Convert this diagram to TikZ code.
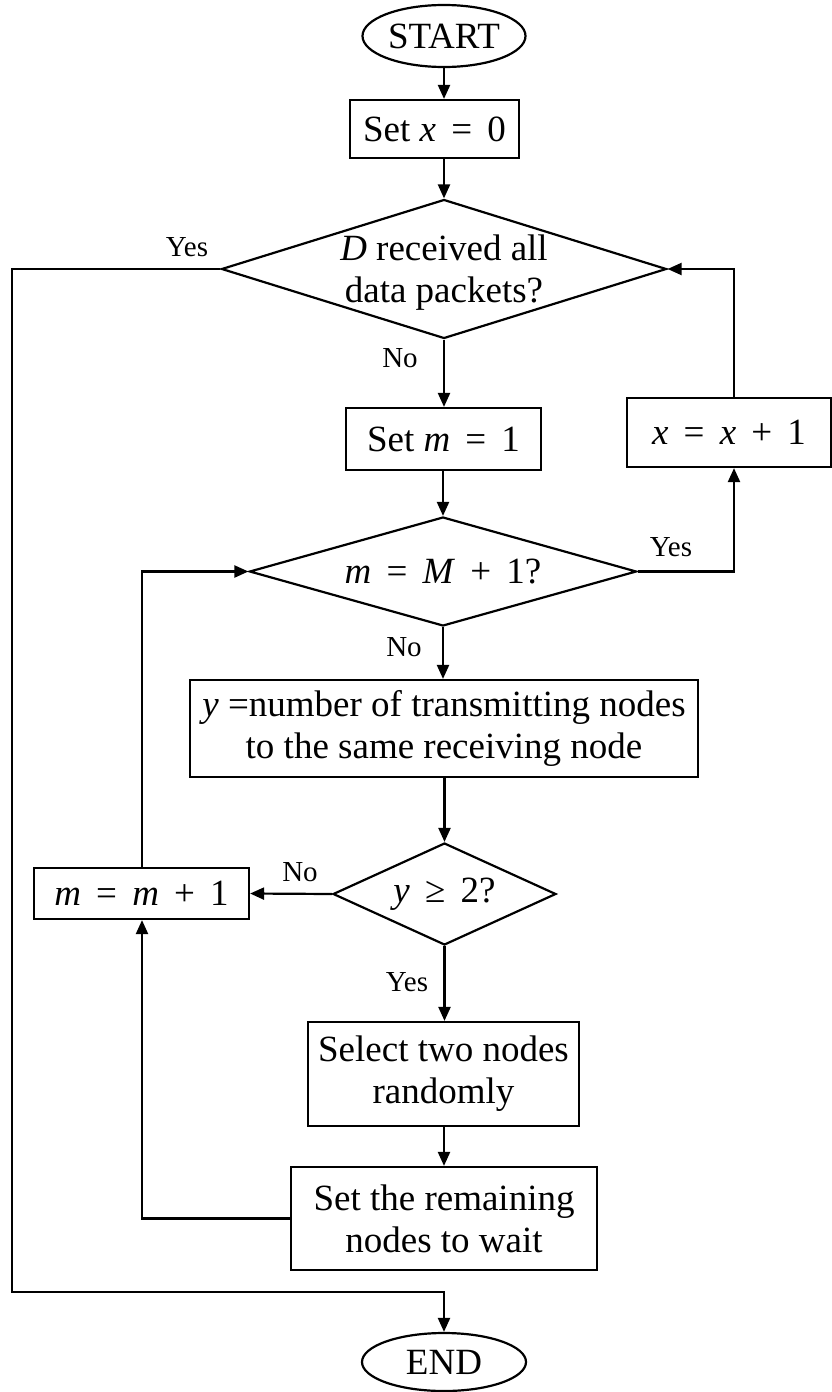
\documentclass[tikz,border=0pt]{standalone}
\usepackage{fontspec}
\setmainfont{Liberation Serif}
\usetikzlibrary{shapes.geometric,arrows.meta}

% italic variable names set in the text font
\newcommand{\vr}[1]{\textit{#1}}
% binary operator with wide spacing
\newcommand{\bop}[1]{\hspace{0.16em}#1\hspace{0.16em}}

\tikzset{
  x=1pt, y=-1pt,
  every path/.style={line width=2.2pt},
  txt/.style={font=\fontsize{37}{42}\selectfont, align=center},
  lbl/.style={font=\fontsize{29}{34}\selectfont, inner sep=0pt},
  terminal/.style={txt, draw, ellipse, inner sep=0pt},
  procbox/.style={txt, draw, rectangle, inner sep=0pt},
  decision/.style={draw, diamond, inner sep=0pt},
  flow/.style={-{Triangle[length=14pt,width=12pt]}},
}

\begin{document}
\begin{tikzpicture}
\useasboundingbox (0,0) rectangle (832,1392);

% terminals
\node[terminal, minimum width=163pt, minimum height=62pt] (start) at (444,36) {START};
\node[terminal, minimum width=164pt, minimum height=58pt] (stop) at (444,1362) {END};

% process boxes
\node[procbox, minimum width=169pt, minimum height=58pt] (setx) at (434.5,129) {Set \vr{x} \bop{=} 0};
\node[procbox, minimum width=195pt, minimum height=62pt] (setm) at (443.5,439) {Set \vr{m} \bop{=} 1};
\node[procbox, minimum width=204pt, minimum height=69pt] (xinc) at (729,432.5) {\vr{x} \bop{=} \vr{x} \bop{+} 1};
\node[procbox, minimum width=508pt, minimum height=97pt] (ycount) at (444,728.5)
  {\vr{y} =number of transmitting nodes\\to the same receiving node};
\node[procbox, minimum width=215pt, minimum height=51pt] (minc) at (141.5,893.5) {\vr{m} \bop{=} \vr{m} \bop{+} 1};
\node[procbox, minimum width=271pt, minimum height=104pt] (select) at (443.5,1074)
  {Select two nodes\\randomly};
\node[procbox, minimum width=306pt, minimum height=103pt] (remain) at (444,1218.5)
  {Set the remaining\\nodes to wait};

% decisions
\node[decision, minimum width=445pt, minimum height=139pt,
      label={[txt, yshift=-4pt]center:\vr{D} received all\\data packets?}] (dall) at (444,269) {};
\node[decision, minimum width=387pt, minimum height=109pt,
      label={[txt]center:\vr{m} \bop{=} \vr{M} \bop{+} 1?}] (mlast) at (443,571.5) {};
\node[decision, minimum width=223pt, minimum height=102pt,
      label={[txt]center:\vr{y} \bop{≥} 2?}] (ytwo) at (444.5,894) {};

% routing points
\coordinate (rx) at (734,269);
\coordinate (lx) at (142,571.5);
\coordinate (ox) at (12,269);
\coordinate (oy) at (12,1292);

% main column
\draw[flow] (start.south) -- (setx.north -| start.south);
\draw[flow] (setx.south -| dall.north) -- (dall.north);
\draw[flow] (dall.south) -- (setm.north -| dall.south);
\draw[flow] (setm.south -| mlast.north) -- (mlast.north);
\draw[flow] (mlast.south) -- (ycount.north -| mlast.south);
\draw[flow] (ycount.south -| ytwo.north) -- (ytwo.north);
\draw[flow] (ytwo.south) -- (select.north -| ytwo.south);
\draw[flow] (select.south -| remain.north) -- (remain.north);

% loops
\draw[flow] (mlast.east) -- (mlast.east -| rx) -- (xinc.south -| rx);
\draw[flow] (xinc.north -| rx) -- (rx) -- (dall.east);
\draw[flow] (ytwo.west) -- (minc.east);
\draw[flow] (minc.north -| lx) -- (lx) -- (mlast.west);
\draw[flow] (remain.west) -- (remain.west -| lx) -- (minc.south -| lx);
\draw[flow] (dall.west) -- (ox) -- (oy) -- (oy -| stop.north) -- (stop.north);

% branch labels
\node[lbl] (yes1) at (187,247) {Yes};
\node[lbl] (no1) at (400,358) {No};
\node[lbl] (yes2) at (671,547) {Yes};
\node[lbl] (no2) at (404,647) {No};
\node[lbl] (no3) at (300,872) {No};
\node[lbl] (yes3) at (407,982) {Yes};
\end{tikzpicture}
\end{document}
